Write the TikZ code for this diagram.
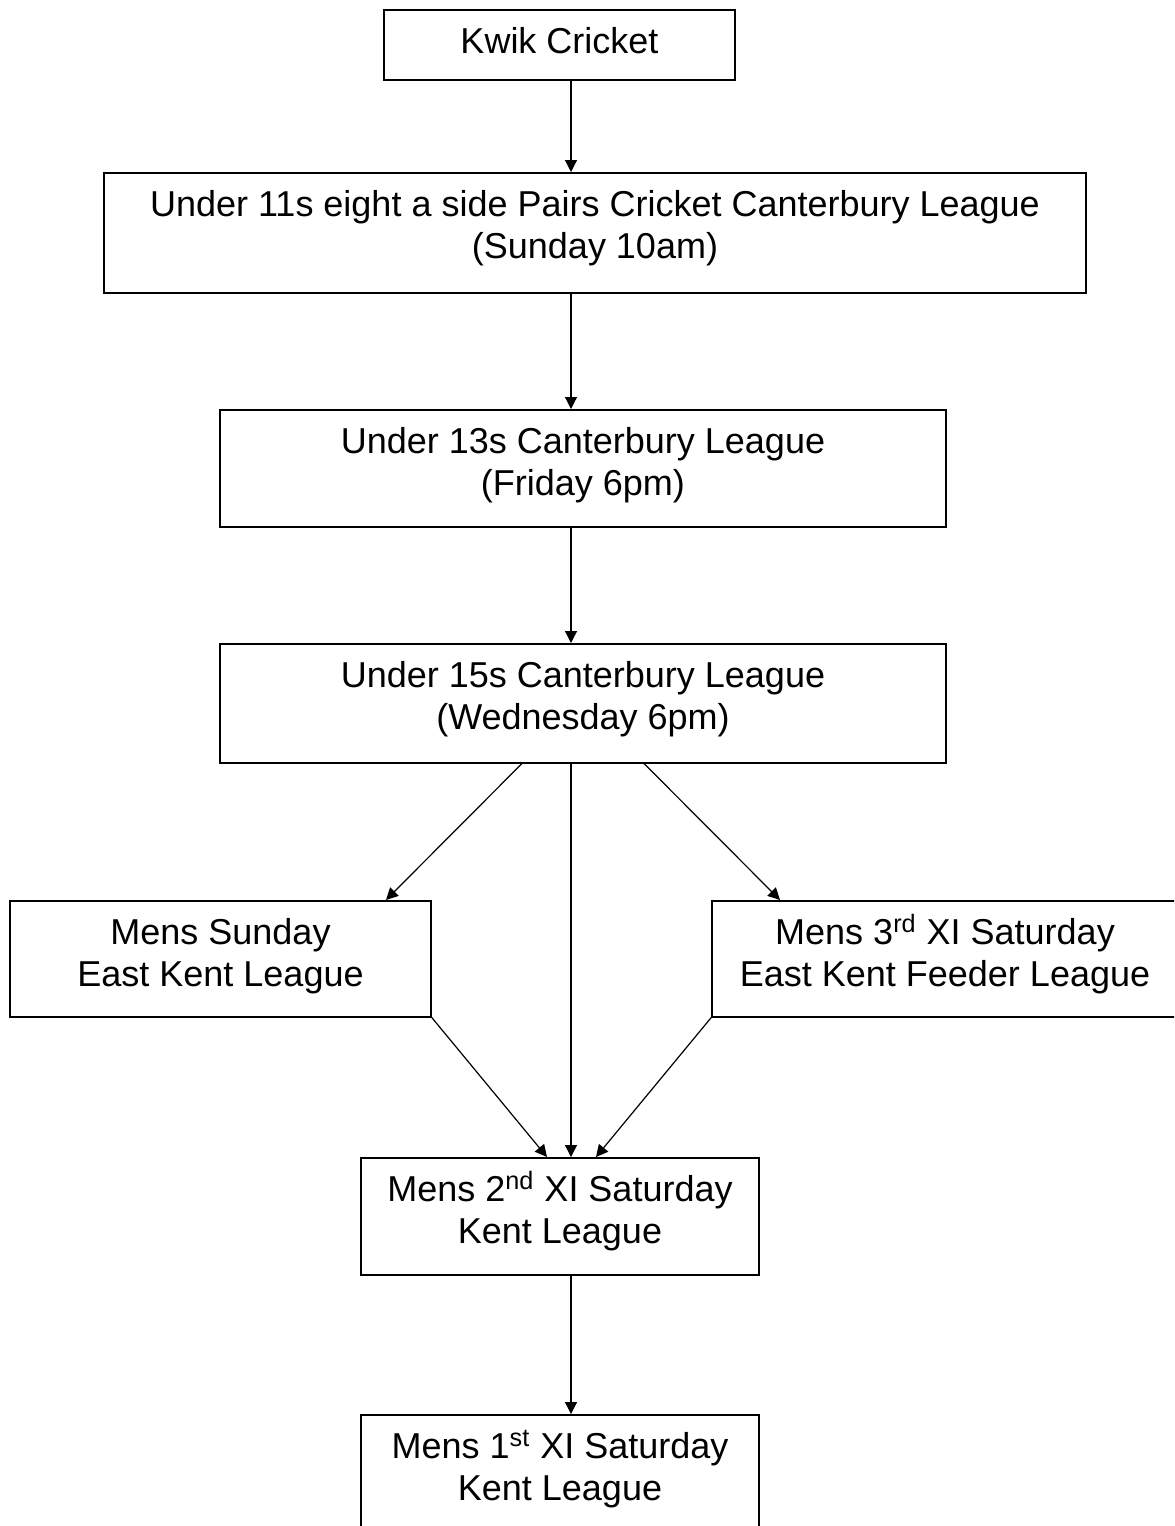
\documentclass[tikz,border=0pt]{standalone}
\usepackage{fontspec}
\setmainfont{Liberation Sans}
\usetikzlibrary{positioning, arrows.meta}

\begin{document}
\begin{tikzpicture}[x=0.5pt, y=-0.5pt,
        league/.style={draw, line width=0.75pt, anchor=north, align=center,
            inner sep=0pt, text height=42.7pt, text depth=#1,
            font=\fontsize{18pt}{20.7pt}\selectfont},
        feed/.style={line width=0.6pt, -{Triangle[length=6pt, width=6pt]}}]
        \def\raster{0.5pt}

        \path[use as bounding box, clip] (0,0) rectangle (1174,1526);

        % spine of the ladder
        \coordinate (spine) at (571,0);

        % boxes, top down
        \node[league=13pt, text height=22pt, minimum width=351*\raster] (kwik) at (559.5,9) {Kwik Cricket};
        \node[league=17.3pt, minimum width=982*\raster] (u11) at (595,172)
            {Under 11s eight a side Pairs Cricket Canterbury League\\(Sunday 10am)};
        \node[league=15.8pt, minimum width=726*\raster] (u13) at (583,409)
            {Under 13s Canterbury League\\(Friday 6pm)};
        \node[league=16.8pt, minimum width=726*\raster] (u15) at (583,643)
            {Under 15s Canterbury League\\(Wednesday 6pm)};
        \node[league=15.3pt, minimum width=421*\raster] (sunday) at (220.5,900)
            {Mens Sunday\\East Kent League};
        \node[league=15.3pt, minimum width=466*\raster] (third) at (945,900)
            {Mens 3\textsuperscript{rd} XI Saturday\\East Kent Feeder League};
        \node[league=15.8pt, minimum width=398*\raster] (second) at (560,1157)
            {Mens 2\textsuperscript{nd} XI Saturday\\Kent League};
        \node[league=15.8pt, minimum width=398*\raster] (first) at (560,1414)
            {Mens 1\textsuperscript{st} XI Saturday\\Kent League};

        % straight down
        \draw[feed] (kwik.south -| spine) -- (u11.north -| spine);
        \draw[feed] (u11.south -| spine) -- (u13.north -| spine);
        \draw[feed] (u13.south -| spine) -- (u15.north -| spine);
        \draw[feed] (u15.south -| spine) -- (second.north -| spine);
        \draw[feed] (second.south -| spine) -- (first.north -| spine);

        % branches
        \draw[feed] ([xshift=-61*\raster]u15.south) -- ([xshift=165.5*\raster]sunday.north);
        \draw[feed] ([xshift=61*\raster]u15.south) -- ([xshift=-165*\raster]third.north);
        \draw[feed] (sunday.south east) -- ([xshift=-24*\raster]second.north -| spine);
        \draw[feed] (third.south west) -- ([xshift=25*\raster]second.north -| spine);
\end{tikzpicture}
\end{document}
